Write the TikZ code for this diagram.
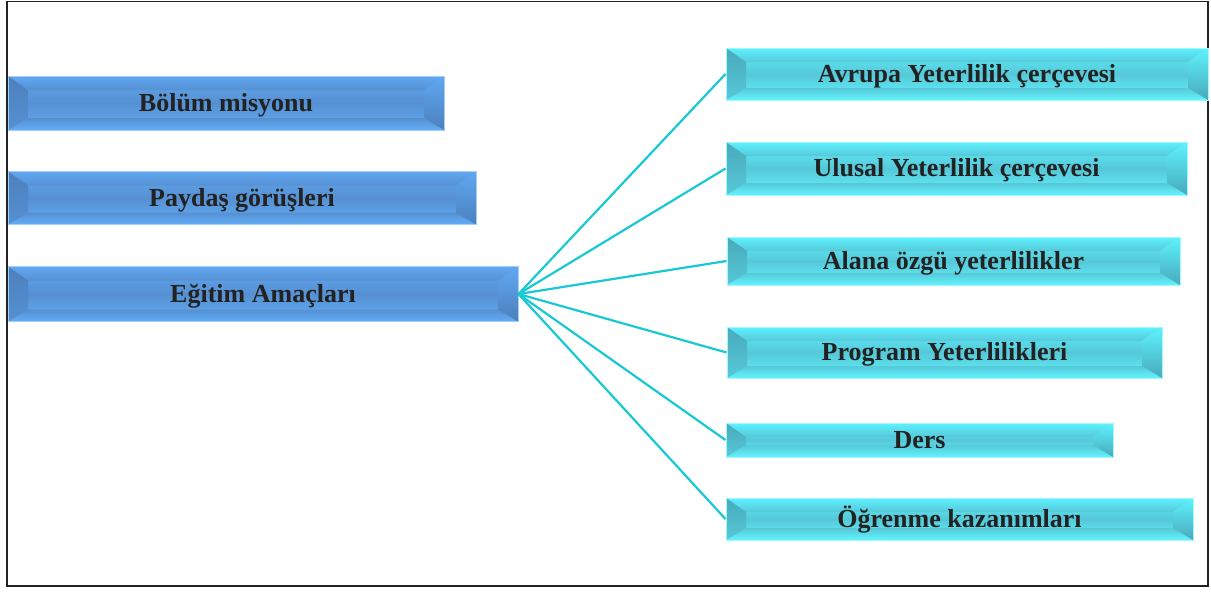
\documentclass[tikz,border=0pt]{standalone}
\usepackage{fontspec}
\setmainfont{Liberation Serif}
\definecolor{blueTop}{HTML}{60A8F2}
\definecolor{blueMid}{HTML}{5690D2}
\definecolor{blueBot}{HTML}{62AEF8}
\definecolor{blueDark}{HTML}{4C80BC}
\definecolor{cyanTop}{HTML}{5EF2FF}
\definecolor{cyanMid}{HTML}{56C8D8}
\definecolor{cyanBot}{HTML}{62F4FF}
\definecolor{cyanDark}{HTML}{48AABA}
\definecolor{linkCyan}{HTML}{18C8D4}
\definecolor{frameGray}{HTML}{222222}
\definecolor{textDark}{HTML}{222222}
\newcommand\bevel[4]{%
  \coordinate (nw) at (path picture bounding box.north west);
  \coordinate (ne) at (path picture bounding box.north east);
  \coordinate (sw) at (path picture bounding box.south west);
  \coordinate (se) at (path picture bounding box.south east);
  \shade[top color=#1, bottom color=#2] (nw) -- (ne) -- ([shift={(-20pt,-14pt)}]ne) -- ([shift={(20pt,-14pt)}]nw) -- cycle;
  \shade[top color=#2, bottom color=#3] (sw) -- (se) -- ([shift={(-20pt,12pt)}]se) -- ([shift={(20pt,12pt)}]sw) -- cycle;
  \shade[top color=#4, bottom color=#2] (nw) -- ([shift={(20pt,-14pt)}]nw) -- ([shift={(20pt,12pt)}]sw) -- (sw) -- cycle;
  \shade[top color=#1, bottom color=#4] (ne) -- ([shift={(-20pt,-14pt)}]ne) -- ([shift={(-20pt,12pt)}]se) -- (se) -- cycle;
}
\tikzset{
  box/.style={inner sep=0pt, text=textDark, text height=17pt, text depth=1pt,
    font=\bfseries\fontsize{26}{30}\selectfont},
  bluebox/.style={box, draw=blueBot!60, line width=1pt,
    top color=blueTop, bottom color=blueBot, middle color=blueMid,
    path picture={\bevel{blueTop}{blueMid}{blueBot}{blueDark}}},
  cyanbox/.style={box, draw=cyanBot!60, line width=1pt,
    top color=cyanTop, bottom color=cyanBot, middle color=cyanMid,
    path picture={\bevel{cyanTop}{cyanMid}{cyanBot}{cyanDark}}},
  link/.style={draw=linkCyan, line width=2.2pt}
}
\begin{document}
\begin{tikzpicture}[x=1pt,y=1pt]
  \useasboundingbox (0,0) rectangle (1211,-592);
  \draw[frameGray, line width=1.8pt] (7,-1.5) rectangle (1208,-586);

  % left column
  \node[bluebox, minimum width=436pt, minimum height=54pt] (bolum) at (226,-103) {Bölüm misyonu};
  \node[bluebox, minimum width=468pt, minimum height=53pt] (paydas) at (242,-198) {Paydaş görüşleri};
  \node[bluebox, minimum width=510pt, minimum height=55pt] (egitim) at (263,-294) {Eğitim Amaçları};

  % right column
  \node[cyanbox, minimum width=482pt, minimum height=52pt] (avrupa) at (967,-74) {Avrupa Yeterlilik çerçevesi};
  \node[cyanbox, minimum width=461pt, minimum height=53pt] (ulusal) at (956.5,-168.5) {Ulusal Yeterlilik çerçevesi};
  \node[cyanbox, minimum width=453pt, minimum height=48pt] (alana) at (953.5,-261) {Alana özgü yeterlilikler};
  \node[cyanbox, minimum width=435pt, minimum height=51pt] (program) at (944.5,-352.5) {Program Yeterlilikleri};
  \node[cyanbox, minimum width=387pt, minimum height=34pt] (ders) at (919.5,-440) {Ders};
  \node[cyanbox, minimum width=467pt, minimum height=42pt] (ogrenme) at (959.5,-519) {Öğrenme kazanımları};

  \foreach \n in {avrupa,ulusal,alana,program,ders,ogrenme}
  {
    \draw[link] (egitim.east) -- (\n.west);
  }
\end{tikzpicture}
\end{document}
